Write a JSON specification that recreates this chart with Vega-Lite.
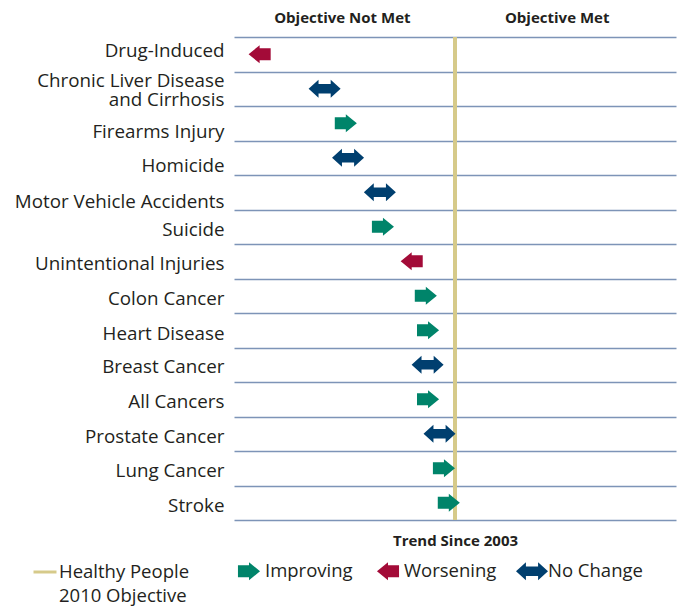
{
  "$schema": "https://vega.github.io/schema/vega-lite/v6.json",
  "width": 442,
  "height": 483,
  "autosize": "none",
  "padding": {"left": 234, "top": 37, "right": 3, "bottom": 86},
  "background": "white",
  "config": {
    "view": {"stroke": null},
    "font": "Open Sans"
  },
  "data": {
    "values": [
      {"cause": "Drug-Induced", "position": 5.8, "trend": "Worsening"},
      {"cause": "Chronic Liver Disease and Cirrhosis", "position": 20.5, "trend": "No Change"},
      {"cause": "Firearms Injury", "position": 25.3, "trend": "Improving"},
      {"cause": "Homicide", "position": 25.8, "trend": "No Change"},
      {"cause": "Motor Vehicle Accidents", "position": 33.0, "trend": "No Change"},
      {"cause": "Suicide", "position": 33.7, "trend": "Improving"},
      {"cause": "Unintentional Injuries", "position": 40.2, "trend": "Worsening"},
      {"cause": "Colon Cancer", "position": 43.4, "trend": "Improving"},
      {"cause": "Heart Disease", "position": 43.9, "trend": "Improving"},
      {"cause": "Breast Cancer", "position": 43.8, "trend": "No Change"},
      {"cause": "All Cancers", "position": 43.9, "trend": "Improving"},
      {"cause": "Prostate Cancer", "position": 46.5, "trend": "No Change"},
      {"cause": "Lung Cancer", "position": 47.5, "trend": "Improving"},
      {"cause": "Stroke", "position": 48.6, "trend": "Improving"}
    ]
  },
  "resolve": {"axis": {"x": "independent"}},
  "layer": [
    {
      "mark": {"type": "rule", "strokeWidth": 3},
      "encoding": {
        "x": {
          "datum": 50,
          "type": "quantitative",
          "scale": {"domain": [0, 100], "nice": false, "zero": false},
          "axis": {
            "orient": "top",
            "title": null,
            "values": [24.4, 73],
            "labelExpr": "datum.value < 50 ? 'Objective Not Met' : 'Objective Met'",
            "labelFont": "Open Sans",
            "labelFontSize": 15,
            "labelFontWeight": "bold",
            "labelColor": "#231F20",
            "labelBaseline": "middle",
            "labelPadding": 20,
            "labelFlush": false,
            "labelOverlap": false,
            "ticks": false,
            "tickSize": 0,
            "domain": false,
            "grid": false
          }
        },
        "stroke": {
          "datum": "Healthy People 2010 Objective",
          "type": "nominal",
          "scale": {"range": ["#D6CA8A"]},
          "legend": {
            "title": null,
            "orient": "none",
            "legendX": -202,
            "legendY": 522,
            "padding": 0,
            "symbolType": "stroke",
            "symbolSize": 529,
            "symbolStrokeWidth": 3,
            "labelOffset": 1,
            "labelFont": "Open Sans",
            "labelFontSize": 18.5,
            "labelColor": "#231F20",
            "labelLimit": 0,
            "labelBaseline": "middle",
            "labelExpr": "['Healthy People', '2010 Objective']",
            "encode": {"labels": {"update": {"lineHeight": {"value": 24}}}}
          }
        }
      }
    },
    {
      "mark": {"type": "point", "filled": true, "opacity": 1, "size": 1024, "strokeWidth": 0},
      "encoding": {
        "y": {
          "field": "cause",
          "type": "nominal",
          "sort": null,
          "scale": {"paddingInner": 0, "paddingOuter": 0},
          "axis": {
            "title": null,
            "domain": false,
            "ticks": false,
            "tickSize": 0,
            "tickBand": "extent",
            "grid": true,
            "gridColor": "#7D94B7",
            "gridWidth": 1.6,
            "gridOpacity": 1,
            "labelPadding": 10,
            "labelFont": "Open Sans",
            "labelFontSize": 18.8,
            "labelColor": "#231F20",
            "labelLimit": 0,
            "labelLineHeight": 19,
            "labelExpr": "datum.value == 'Chronic Liver Disease and Cirrhosis' ? ['Chronic Liver Disease', 'and Cirrhosis'] : datum.value",
            "labelOffset": {
              "condition": [
                {"test": "datum.value == 'Drug-Induced'", "value": -3.3},
                {"test": "datum.value == 'Chronic Liver Disease and Cirrhosis'", "value": -8.75},
                {"test": "datum.value == 'Firearms Injury'", "value": 8.7},
                {"test": "datum.value == 'Homicide'", "value": 8},
                {"test": "datum.value == 'Motor Vehicle Accidents'", "value": 9.7},
                {"test": "datum.value == 'Heart Disease'", "value": 3.4},
                {"test": "datum.value == 'Breast Cancer' || datum.value == 'All Cancers'", "value": 2}
              ],
              "value": 2.6
            }
          }
        },
        "x": {
          "field": "position",
          "type": "quantitative",
          "axis": {
            "orient": "bottom",
            "title": "Trend Since 2003",
            "titleFont": "Open Sans",
            "titleFontSize": 15,
            "titleFontWeight": "bold",
            "titleColor": "#231F20",
            "titlePadding": 13,
            "labels": false,
            "ticks": false,
            "tickSize": 0,
            "domain": false,
            "grid": false
          }
        },
        "shape": {
          "field": "trend",
          "type": "nominal",
          "scale": {
            "domain": ["Improving", "Worsening", "No Change"],
            "range": [
              "M-0.69,-0.375L0,-0.375L0,-0.56L0.69,0L0,0.56L0,0.375L-0.69,0.375Z",
              "M0.69,-0.375L0,-0.375L0,-0.56L-0.69,0L0,0.56L0,0.375L0.69,0.375Z",
              "M-1,0L-0.38,-0.56L-0.38,-0.3L0.38,-0.3L0.38,-0.56L1,0L0.38,0.56L0.38,0.3L-0.38,0.3L-0.38,0.56Z"
            ]
          },
          "legend": {
            "title": null,
            "orient": "none",
            "direction": "horizontal",
            "legendX": -1,
            "legendY": 518,
            "padding": 0,
            "symbolSize": 1024,
            "symbolStrokeWidth": 0,
            "symbolOpacity": 1,
            "labelOffset": 0,
            "columnPadding": 19,
            "labelFont": "Open Sans",
            "labelFontSize": 18.5,
            "labelColor": "#231F20",
            "labelLimit": 0
          }
        },
        "color": {
          "field": "trend",
          "type": "nominal",
          "scale": {
            "domain": ["Improving", "Worsening", "No Change"],
            "range": ["#00846A", "#A30B38", "#003F6F"]
          },
          "legend": {
            "title": null,
            "orient": "none",
            "direction": "horizontal",
            "legendX": -1,
            "legendY": 518,
            "padding": 0,
            "symbolSize": 1024,
            "symbolStrokeWidth": 0,
            "symbolOpacity": 1,
            "labelOffset": 0,
            "columnPadding": 19,
            "labelFont": "Open Sans",
            "labelFontSize": 18.5,
            "labelColor": "#231F20",
            "labelLimit": 0
          }
        }
      }
    }
  ]
}
